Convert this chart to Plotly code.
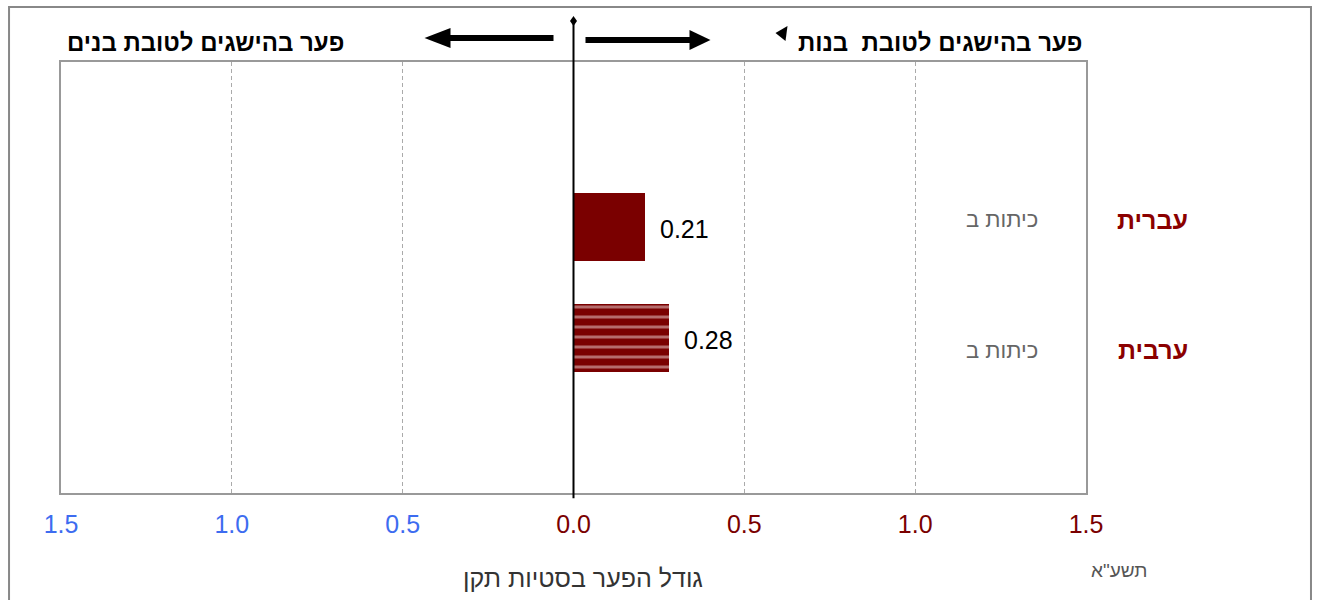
import plotly.graph_objects as go

# ---- data ----
categories = ["עברית", "ערבית"]
grade_labels = ["כיתות ב", "כיתות ב"]
gaps = [0.21, 0.28]
bar_patterns = ["", "-"]
tick_vals = [-1.5, -1.0, -0.5, 0.0, 0.5, 1.0, 1.5]
tick_labels = ["1.5", "1.0", "0.5", "0.0", "0.5", "1.0", "1.5"]
title_boys = "פער בהישגים לטובת בנים"
title_girls = "פער בהישגים לטובת  בנות"
axis_title = "גודל הפער בסטיות תקן"
year_label = 'תשע"א'

RED = "#7a0000"
BLUE = "#3d6cf0"
FONT = "Liberation Sans, Arial, sans-serif"

n = len(categories)
ypos = [n - 1 - i for i in range(n)]

fig = go.Figure()
fig.add_trace(go.Bar(
    x=gaps, y=ypos, base=0, orientation="h", width=0.61,
    marker=dict(color=RED, line=dict(width=0),
                pattern=dict(shape=bar_patterns, fillmode="overlay",
                             fgcolor="#f0d8d8", size=10, solidity=0.3)),
    hoverinfo="skip", showlegend=False,
))

ticktext = []
for v, t in zip(tick_vals, tick_labels):
    c = BLUE if v < 0 else RED
    ticktext.append(f"<span style='color:{c}'>{t}</span>")

annotations = []
for yy, g, cat, lab in zip(ypos, gaps, categories, grade_labels):
    annotations.append(dict(x=g, y=yy, xref="x", yref="y", text=f"{g:.2f}",
                            showarrow=False, xanchor="left", yanchor="middle",
                            xshift=13, yshift=-2,
                            font=dict(size=25, color="black", family=FONT)))
    ysh = 7 if yy == 1 else -12
    annotations.append(dict(x=1.1015, y=yy, xref="paper", yref="y", text=f"<b>{cat}</b>",
                            showarrow=False, xanchor="right", yanchor="middle", yshift=ysh,
                            font=dict(size=25, color="#8b0000", family=FONT)))
    annotations.append(dict(x=0.955, y=yy, xref="paper", yref="y", text=lab,
                            showarrow=False, xanchor="right", yanchor="middle", yshift=ysh,
                            font=dict(size=22, color="#666666", family=FONT)))

annotations += [
    dict(x=0.1405, y=1.046, xref="paper", yref="paper", text=f"<b>{title_boys}</b>",
         xanchor="center", yanchor="middle",
         showarrow=False, font=dict(size=24, color="black", family=FONT)),
    dict(x=0.8576, y=1.046, xref="paper", yref="paper", text=f"<b>{title_girls}</b>",
         xanchor="center", yanchor="middle",
         showarrow=False, font=dict(size=24, color="black", family=FONT)),
    dict(x=0.509, y=-0.197, xref="paper", yref="paper", text=axis_title,
         xanchor="center", yanchor="middle",
         showarrow=False, font=dict(size=25, color="#333333", family=FONT)),
    dict(x=1.032, y=-0.179, xref="paper", yref="paper", text=year_label,
         xanchor="center", yanchor="middle",
         showarrow=False, font=dict(size=19, color="#555555", family=FONT)),
]

px = 1 / 341.67  # data units per pixel along x
py = 1 / 431.0   # paper units per pixel along y
ya = 1.0557
yb = 1.0512
yd = (493 - 21) * py

shapes = [
    # outer frame
    dict(type="rect", xref="paper", yref="paper", x0=-0.0507, x1=1.2195, y0=-0.4, y1=1.1276,
         line=dict(color="#888888", width=2), layer="below"),
    # zero line
    dict(type="line", xref="x", yref="paper", x0=0, x1=0, y0=-0.012, y1=yd,
         line=dict(color="black", width=2)),
    # diamond on top of zero line
    dict(type="path", xref="x", yref="paper",
         path=f"M 0 {yd + 5*py} L {3.5*px} {yd} L 0 {yd - 5*py} L {-3.5*px} {yd} Z",
         fillcolor="black", line=dict(width=0)),
    # left arrow
    dict(type="line", xref="x", yref="paper", x0=-20 * px, x1=-125 * px, y0=ya, y1=ya,
         line=dict(color="black", width=6)),
    dict(type="path", xref="x", yref="paper",
         path=f"M {-123*px} {ya + 10*py} L {-123*px} {ya - 10*py} L {-149*px} {ya} Z",
         fillcolor="black", line=dict(width=0)),
    # right arrow
    dict(type="line", xref="x", yref="paper", x0=12 * px, x1=118 * px, y0=yb, y1=yb,
         line=dict(color="black", width=6)),
    dict(type="path", xref="x", yref="paper",
         path=f"M {116*px} {yb + 10*py} L {116*px} {yb - 10*py} L {137*px} {yb} Z",
         fillcolor="black", line=dict(width=0)),
    # small triangle near title
    dict(type="path", xref="x", yref="paper",
         path=f"M {202*px} {(493-33)*py} L {214*px} {(493-26)*py} L {212*px} {(493-41)*py} Z",
         fillcolor="black", line=dict(width=0)),
]

fig.update_layout(
    width=1321, height=600,
    margin=dict(l=61, r=235, t=62, b=107),
    paper_bgcolor="white", plot_bgcolor="white",
    font=dict(family=FONT),
    xaxis=dict(range=[-1.5, 1.5], tickvals=tick_vals, ticktext=ticktext,
               tickfont=dict(size=25, family=FONT), showgrid=True,
               gridcolor="#aaaaaa", griddash="4px,3px", gridwidth=1,
               zeroline=False, showline=True, linecolor="#999999", linewidth=1.5,
               mirror=True, ticks="", ticklabelstandoff=8, fixedrange=True),
    yaxis=dict(range=[-1.396, 2.486], showticklabels=False, showgrid=False,
               zeroline=False, showline=True, linecolor="#999999", linewidth=1.5,
               mirror=True, ticks="", fixedrange=True),
    annotations=annotations, shapes=shapes, bargap=0,
)

fig.write_html("out.html", config={"displayModeBar": False},
               post_script="document.body.style.margin='0px';")
